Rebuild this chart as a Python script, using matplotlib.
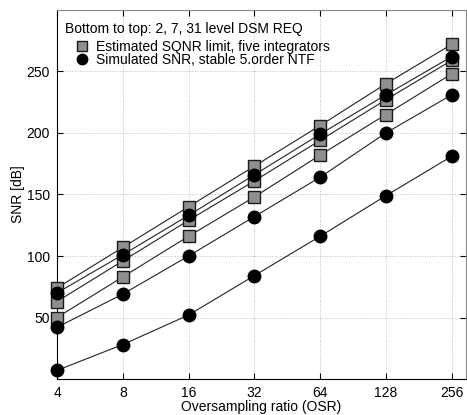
import matplotlib
matplotlib.use("Agg")
import matplotlib.pyplot as plt
from matplotlib.lines import Line2D

plt.rcParams['font.family'] = ['Liberation Sans', 'DejaVu Sans']

osr = [4, 8, 16, 32, 64, 128, 256]
xtick_labels = ['4', '8', '16', '32', '64', '128', '256']

# Estimated SQNR limit, five integrators (2, 7, 31 level)
est_2 = [50, 83, 116, 148, 182, 215, 248]
est_7 = [63, 96, 129, 161, 194, 227, 259]
est_31 = [74, 107, 140, 173, 206, 240, 272]

# Simulated SNR, stable 5.order NTF (2, 7, 31 level)
sim_2 = [7, 28, 52, 84, 116, 149, 181]
sim_7 = [42, 69, 100, 132, 164, 200, 231]
sim_31 = [70, 101, 133, 166, 199, 231, 262]

yticks = [50, 100, 150, 200, 250]

fig = plt.figure(figsize=(4.67, 4.15), dpi=100)
ax = fig.add_axes([57/467, 36/415, 409/467, 369/415])

line_kw = dict(color='#222222', linewidth=0.8, clip_on=False, zorder=3)
for s in (est_2, est_7, est_31):
    ax.plot(osr, s, marker='s', markersize=8, markerfacecolor='#8f8f8f',
            markeredgecolor='#1a1a1a', markeredgewidth=1.0, **line_kw)
for s in (sim_2, sim_7, sim_31):
    ax.plot(osr, s, marker='o', markersize=9, markerfacecolor='black',
            markeredgecolor='black', **line_kw)

ax.set_xscale('log', base=2)
ax.set_xlim(4, 298)
ax.set_ylim(0, 300)
ax.set_xticks(osr)
ax.set_xticklabels(xtick_labels)
ax.minorticks_off()
ax.set_yticks(yticks)
ax.tick_params(direction='in', top=True, right=True, labelsize=10, length=4, pad=5)
ax.grid(True, linestyle=(0, (1, 2)), color='#aaaaaa', linewidth=0.6)
ax.set_axisbelow(True)
for sp in ('top', 'right'):
    ax.spines[sp].set_color('#888888')
for sp in ('left', 'bottom'):
    ax.spines[sp].set_color('black')

ax.set_xlabel('Oversampling ratio (OSR)', fontsize=10, labelpad=0)
ax.set_ylabel('SNR [dB]', fontsize=10, labelpad=1)

ax.text((65 - 57) / 409, 1 - (33 - 10) / 369, 'Bottom to top: 2, 7, 31 level DSM REQ',
        transform=ax.transAxes, ha='left', va='baseline', fontsize=10)

handles = [
    Line2D([], [], linestyle='none', marker='s', markersize=6.5,
           markerfacecolor='#8f8f8f', markeredgecolor='#1a1a1a'),
    Line2D([], [], linestyle='none', marker='o', markersize=7.5,
           markerfacecolor='black', markeredgecolor='black'),
]
leg = ax.legend(handles, ['Estimated SQNR limit, five integrators',
                          'Simulated SNR, stable 5.order NTF'],
                loc='upper left', bbox_to_anchor=((65 - 57) / 409, 1 - (40 - 10) / 369),
                frameon=False, fontsize=10,
                labelspacing=-0.1, handletextpad=-0.2, handlelength=2.4,
                borderaxespad=0, borderpad=0)

fig.savefig('out.png', dpi=100)
